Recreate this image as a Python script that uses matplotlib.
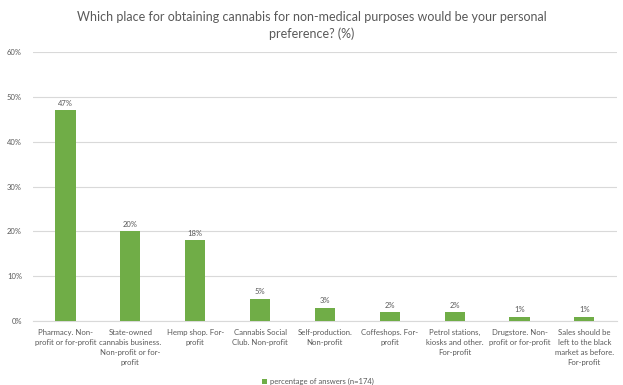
import matplotlib
matplotlib.use("Agg")
import matplotlib.pyplot as plt
import numpy as np

plt.rcParams['font.family'] = ['Lato', 'DejaVu Sans']

categories = [
    "Pharmacy. Non-\nprofit or for-profit",
    "State-owned\ncannabis business.\nNon-profit or for-\nprofit",
    "Hemp shop. For-\nprofit",
    "Cannabis Social\nClub. Non-profit",
    "Self-production.\nNon-profit",
    "Coffeshops. For-\nprofit",
    "Petrol stations,\nkiosks and other.\nFor-profit",
    "Drugstore. Non-\nprofit or for-profit",
    "Sales should be\nleft to the black\nmarket as before.\nFor-profit",
]
values = [47, 20, 18, 5, 3, 2, 2, 1, 1]
yticks = [0, 10, 20, 30, 40, 50, 60]
title = "Which place for obtaining cannabis for non-medical purposes would be your personal\npreference? (%)"
series_name = "percentage of answers (n=174)"

green = '#70AD47'
grey_text = '#595959'
grid_col = '#D9D9D9'

fig = plt.figure(figsize=(6.23, 3.85), dpi=100)
ax = fig.add_axes([0.053, 0.166, 0.937, 0.699])

x = np.arange(len(categories))
bars = ax.bar(x, values, width=0.31, color=green, label=series_name, zorder=3)

# value labels above the bars
for xi, v in zip(x, values):
    ax.text(xi, v + 0.8, "%d%%" % v, ha='center', va='bottom',
            fontsize=5.5, color=grey_text)

ax.set_xlim(-0.5, len(categories) - 0.5)
ax.set_ylim(0, 60)
ax.set_yticks(yticks)
ax.set_yticklabels(["%d%%" % t for t in yticks], fontsize=5.5, color=grey_text)
ax.set_xticks(x)
ax.set_xticklabels(categories, fontsize=5.6, color=grey_text, linespacing=1.5, va='top')
ax.tick_params(axis='both', length=0)
ax.tick_params(axis='x', pad=6)
ax.tick_params(axis='y', pad=8)
ax.yaxis.grid(True, color=grid_col, linewidth=0.8, zorder=0)

for s in ['top', 'right', 'left']:
    ax.spines[s].set_visible(False)
ax.spines['bottom'].set_color(grid_col)
ax.spines['bottom'].set_linewidth(0.8)

fig.text(0.5, 0.972, title, ha='center', va='top', fontsize=9.0,
         color=grey_text, linespacing=1.4)

fig.legend(handles=[bars], labels=[series_name], loc='lower center',
           bbox_to_anchor=(0.51, -0.018), frameon=False, fontsize=5.5,
           handlelength=0.6, handleheight=0.6, handletextpad=0.4,
           labelcolor=grey_text)

fig.savefig("out.png", dpi=100, facecolor='white')
